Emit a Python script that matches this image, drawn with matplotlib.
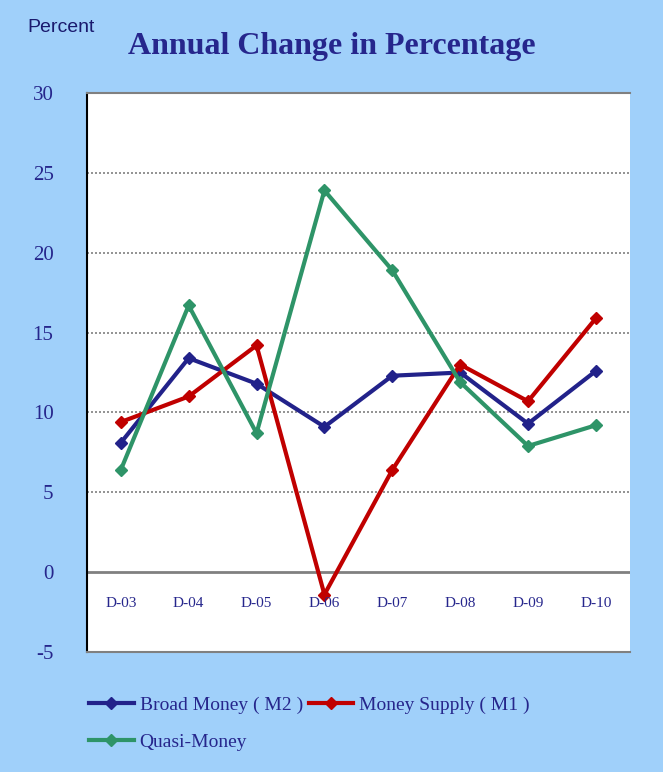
import matplotlib
matplotlib.use('Agg')
import matplotlib.pyplot as plt

categories = ['D-03', 'D-04', 'D-05', 'D-06', 'D-07', 'D-08', 'D-09', 'D-10']
broad_money_m2 = [8.1, 13.4, 11.8, 9.1, 12.3, 12.5, 9.3, 12.6]
money_supply_m1 = [9.4, 11.0, 14.2, -1.4, 6.4, 13.0, 10.7, 15.9]
quasi_money = [6.4, 16.7, 8.7, 23.9, 18.9, 11.9, 7.9, 9.2]
y_ticks = [-5, 0, 5, 10, 15, 20, 25, 30]

bg = '#A0D0FA'
navy = '#26268C'

fig = plt.figure(figsize=(6.63, 7.72), dpi=100, facecolor=bg)
ax = fig.add_axes([0.131, 0.1554, 0.819, 0.7241])
ax.set_facecolor('white')

x = list(range(len(categories)))
l1, = ax.plot(x, broad_money_m2, color='#22228A', lw=3, marker='D', ms=6,
              label='Broad Money ( M2 )', zorder=3)
l2, = ax.plot(x, money_supply_m1, color='#C00000', lw=3, marker='D', ms=6,
              label='Money Supply ( M1 )', zorder=3)
l3, = ax.plot(x, quasi_money, color='#2E9468', lw=3, marker='D', ms=6,
              label='Quasi-Money', zorder=3)

ax.set_xlim(-0.5, 7.5)
ax.set_ylim(-5, 30)
ax.set_yticks(y_ticks)
ax.set_yticklabels([str(t) for t in y_ticks], family='Liberation Serif',
                   fontsize=15, color=navy)
ax.tick_params(axis='y', length=0, pad=24)
ax.set_xticks([])

for t in y_ticks[2:]:
    ax.axhline(t, color='#808080', lw=1.2, ls=(0, (1.2, 1.2)), zorder=1)
ax.axhline(0, color='#808080', lw=2, zorder=2)

for i, c in enumerate(categories):
    ax.text(i, -1.95, c, ha='center', va='center', family='Liberation Serif',
            fontsize=11, color=navy)

ax.spines['right'].set_visible(False)
ax.spines['left'].set_color('black')
ax.spines['left'].set_linewidth(1.5)
ax.spines['left'].set_linestyle((0, (1, 1)))
for s in ['top', 'bottom']:
    ax.spines[s].set_color('#808080')
    ax.spines[s].set_linewidth(1.5)
    ax.spines[s].set_linestyle((0, (1, 1)))

fig.text(0.5, 0.940, 'Annual Change in Percentage', ha='center', va='center',
         family='Liberation Serif', fontweight='bold', fontsize=23, color=navy)
fig.text(0.042, 0.965, 'Percent', ha='left', va='center',
         family='Liberation Sans', fontsize=14, color='#1A1A6E')

leg = fig.legend([l1, l3, l2], [l1.get_label(), l3.get_label(), l2.get_label()],
                 loc='upper left', bbox_to_anchor=(0.108, 0.121), ncol=2,
                 frameon=False, prop={'family': 'Liberation Serif', 'size': 14},
                 handlelength=2.3, handletextpad=0.3, columnspacing=0.3,
                 labelspacing=1.0)
for t in leg.get_texts():
    t.set_color(navy)

fig.savefig('out.png', dpi=100, facecolor=bg)
